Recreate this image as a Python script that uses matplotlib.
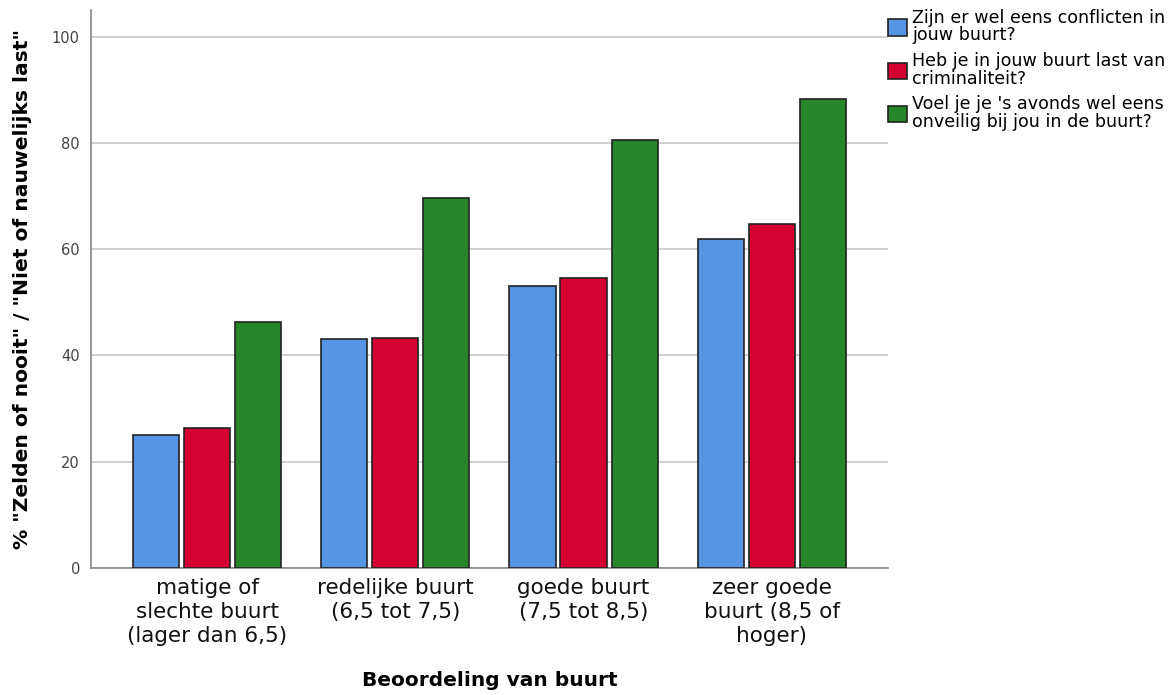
import numpy as np
import matplotlib
matplotlib.use("Agg")
from matplotlib import pyplot as plt
from matplotlib.patches import Patch

categories = ["matige of\nslechte buurt\n(lager dan 6,5)",
              "redelijke buurt\n(6,5 tot 7,5)",
              "goede buurt\n(7,5 tot 8,5)",
              "zeer goede\nbuurt (8,5 of\nhoger)"]
series_names = ["Zijn er wel eens conflicten in\njouw buurt?",
                "Heb je in jouw buurt last van\ncriminaliteit?",
                "Voel je je 's avonds wel eens\nonveilig bij jou in de buurt?"]
conflicten = [25.0, 43.1, 53.1, 62.0]
criminaliteit = [26.4, 43.3, 54.6, 64.8]
onveilig = [46.2, 69.7, 80.6, 88.3]
yticks = [0, 20, 40, 60, 80, 100]

colors = ["#5595E3", "#D50032", "#27862A"]
values = [conflicten, criminaliteit, onveilig]

fig = plt.figure(figsize=(11.76, 6.95), dpi=100)
ax = fig.add_axes([0.0774, 0.1827, 0.6776, 0.8029])

x = np.arange(len(categories))
step = 0.271
width = 0.245
for i, (vals, c) in enumerate(zip(values, colors)):
    ax.bar(x + (i - 1) * step, vals, width, color=c, edgecolor="#222222",
           linewidth=1.2, zorder=3)

ax.set_xlim(-0.617, 3.617)
ax.set_ylim(0, 105)
ax.set_yticks(yticks)
ax.set_yticklabels([str(t) for t in yticks], fontsize=10.5, color="#444444")
ax.yaxis.grid(True, color="#c8c8c8", linewidth=1.2, zorder=0)
ax.tick_params(axis="y", length=0, pad=8)
ax.tick_params(axis="x", length=0, pad=7)
ax.set_xticks(x)
ax.set_xticklabels(categories, fontsize=15.5, linespacing=1.25,
                   color="#111111")

for s in ["top", "right"]:
    ax.spines[s].set_visible(False)
for s in ["left", "bottom"]:
    ax.spines[s].set_color("#888888")
    ax.spines[s].set_linewidth(1.2)

ax.set_xlabel("Beoordeling van buurt", fontsize=14.5, fontweight="bold",
              labelpad=18)
ax.set_ylabel('% "Zelden of nooit" / "Niet of nauwelijks last"', fontsize=14.6,
              fontweight="bold", labelpad=14)

handles = [Patch(facecolor=c, edgecolor="#222222", linewidth=1.2) for c in colors]
leg = fig.legend(handles, series_names, loc="upper left",
                 bbox_to_anchor=(0.755, 0.987), frameon=False, fontsize=12.6,
                 handlelength=1.1, handleheight=1.1, handletextpad=0.3,
                 labelspacing=0.45, borderaxespad=0, borderpad=0)
for t in leg.get_texts():
    t.set_linespacing(0.95)

fig.savefig("out.png", dpi=100)
